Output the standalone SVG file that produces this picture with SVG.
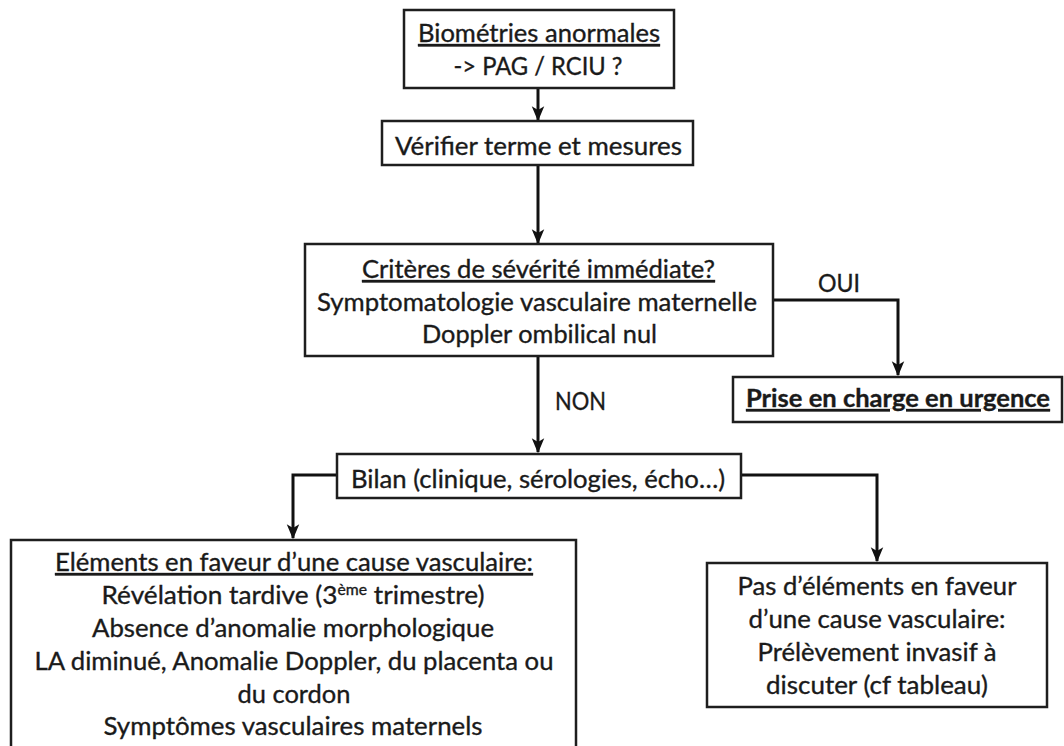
<svg xmlns="http://www.w3.org/2000/svg" width="1064" height="746" viewBox="0 0 1064 746">
<style>
.box{fill:#fff;stroke:#1e1e1e;stroke-width:2.5}
.t{font-family:Lato,"Open Sans","Liberation Sans",sans-serif;font-size:25px;fill:#1a1a1a;stroke:#1a1a1a;stroke-width:0.35;text-anchor:middle}
.u{text-decoration:underline}
.b{font-weight:bold}
.c{fill:none;stroke:#111;stroke-width:3}
</style>
<defs>
<marker id="ah" viewBox="0 0 12 12" refX="11" refY="6" markerWidth="15" markerHeight="15" markerUnits="userSpaceOnUse" orient="auto">
<path d="M0,1 L12,6 L0,11 L3,6 z" fill="#111"/>
</marker>
</defs>
<rect width="1064" height="746" fill="#fff"/>
<g id="connectors">
<line class="c" x1="538" y1="88" x2="538" y2="120" marker-end="url(#ah)"/>
<line class="c" x1="538" y1="165" x2="538" y2="243" marker-end="url(#ah)"/>
<path class="c" d="M773,300 H898 V375" marker-end="url(#ah)"/>
<line class="c" x1="538" y1="356" x2="538" y2="452" marker-end="url(#ah)"/>
<path class="c" d="M337,475 H293 V538" marker-end="url(#ah)"/>
<path class="c" d="M741,475 H877 V561" marker-end="url(#ah)"/>
<text class="t" x="839" y="292" textLength="42" lengthAdjust="spacingAndGlyphs">OUI</text>
<text class="t" x="580.5" y="410" textLength="51" lengthAdjust="spacingAndGlyphs">NON</text>
</g>
<g id="n1">
<rect class="box" x="404" y="10" width="270" height="78"/>
<text class="t u" x="539" y="42" textLength="242" lengthAdjust="spacingAndGlyphs">Biométries anormales</text>
<text class="t" x="538" y="75" textLength="169" lengthAdjust="spacingAndGlyphs">-&gt; PAG / RCIU ?</text>
</g>
<g id="n2">
<rect class="box" x="382" y="121" width="311" height="44"/>
<text class="t" x="538.5" y="155" textLength="287" lengthAdjust="spacingAndGlyphs">Vérifier terme et mesures</text>
</g>
<g id="n3">
<rect class="box" x="305" y="244" width="468" height="112"/>
<text class="t u" x="538.5" y="278" textLength="353" lengthAdjust="spacingAndGlyphs">Critères de sévérité immédiate?</text>
<text class="t" x="537" y="311" textLength="440" lengthAdjust="spacingAndGlyphs">Symptomatologie vasculaire maternelle</text>
<text class="t" x="539.5" y="343" textLength="235" lengthAdjust="spacingAndGlyphs">Doppler ombilical nul</text>
</g>
<g id="n4">
<rect class="box" x="733" y="377" width="329" height="45"/>
<text class="t u b" x="898" y="407" textLength="304" lengthAdjust="spacingAndGlyphs">Prise en charge en urgence</text>
</g>
<g id="n5">
<rect class="box" x="337" y="454" width="404" height="44"/>
<text class="t" x="538" y="488" textLength="374" lengthAdjust="spacingAndGlyphs">Bilan (clinique, sérologies, écho…)</text>
</g>
<g id="n6">
<rect class="box" x="11" y="540" width="565" height="230"/>
<text class="t u" x="294" y="571" textLength="478" lengthAdjust="spacingAndGlyphs">Eléments en faveur d’une cause vasculaire:</text>
<text class="t" x="293" y="604" textLength="383" lengthAdjust="spacingAndGlyphs">Révélation tardive (3<tspan font-size="15" dy="-9">ème</tspan><tspan dy="9"> trimestre)</tspan></text>
<text class="t" x="293" y="637" textLength="402" lengthAdjust="spacingAndGlyphs">Absence d’anomalie morphologique</text>
<text class="t" x="294" y="670" textLength="519" lengthAdjust="spacingAndGlyphs">LA diminué, Anomalie Doppler, du placenta ou</text>
<text class="t" x="294" y="703" textLength="113" lengthAdjust="spacingAndGlyphs">du cordon</text>
<text class="t" x="293" y="735" textLength="379" lengthAdjust="spacingAndGlyphs">Symptômes vasculaires maternels</text>
</g>
<g id="n7">
<rect class="box" x="707" y="563" width="340" height="144"/>
<text class="t" x="877" y="595" textLength="279" lengthAdjust="spacingAndGlyphs">Pas d’éléments en faveur</text>
<text class="t" x="877" y="628" textLength="257" lengthAdjust="spacingAndGlyphs">d’une cause vasculaire:</text>
<text class="t" x="877" y="661" textLength="239" lengthAdjust="spacingAndGlyphs">Prélèvement invasif à</text>
<text class="t" x="877" y="694" textLength="222" lengthAdjust="spacingAndGlyphs">discuter (cf tableau)</text>
</g>
</svg>
